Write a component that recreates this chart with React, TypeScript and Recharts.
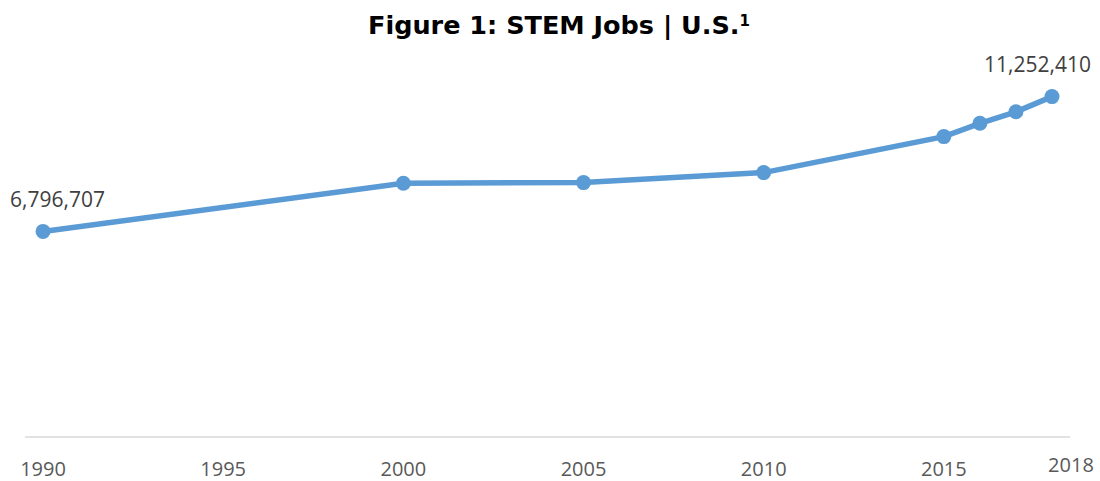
import React from "react";
import { LineChart, Line, XAxis, YAxis, LabelList } from "recharts";

const years = [1990, 2000, 2005, 2010, 2015, 2016, 2017, 2018];
const jobs = [6796707, 8390000, 8410000, 8740000, 9930000, 10370000, 10750000, 11252410];
const xTicks = [1990, 1995, 2000, 2005, 2010, 2015, 2018];
const labelledYears = [1990, 2018];

const data = years.map((y, i) => ({ year: y, jobs: jobs[i] }));

const fmt = (v: number) => v.toLocaleString("en-US");

const Tick = (props: any) => {
  const { x, y, payload } = props;
  const last = payload.value === 2018;
  return (
    <text
      x={x + (last ? 19 : 0)}
      y={y + (last ? 27 : 31)}
      textAnchor="middle"
      fill="#595959"
      fontFamily="'Open Sans', sans-serif"
      fontSize={20}
    >
      {payload.value}
    </text>
  );
};

const DataLabel = (props: any) => {
  const { x, y, index } = props;
  const yr = years[index];
  if (!labelledYears.includes(yr)) return null;
  const first = index === 0;
  return (
    <text
      x={first ? x - 33 : x + 39}
      y={y - 24.5}
      textAnchor={first ? "start" : "end"}
      fill="#404040"
      fontFamily="'Open Sans', sans-serif"
      fontSize={21}
    >
      {fmt(jobs[index])}
    </text>
  );
};

export default function App() {
  return (
    <div style={{ position: "fixed", left: 0, top: 0, width: 1100, height: 481, background: "#fff" }}>
      <div
        style={{
          position: "absolute",
          left: 0,
          top: 9,
          width: 1118,
          textAlign: "center",
          fontFamily: "'DejaVu Sans', sans-serif",
          fontWeight: 700,
          fontSize: 25.5,
          color: "#000",
          lineHeight: "32px",
        }}
      >
        Figure 1: STEM Jobs | U.S.<sup style={{ fontSize: 15, verticalAlign: "top", position: "relative", top: -4 }}>1</sup>
      </div>
      <LineChart width={1100} height={481} data={data} margin={{ top: 74, right: 30, bottom: 0, left: 25 }}>
        <XAxis
          dataKey="year"
          type="number"
          domain={[1989.5, 2018.5]}
          ticks={xTicks}
          tick={<Tick />}
          tickLine={false}
          axisLine={{ stroke: "#d9d9d9", strokeWidth: 1.5 }}
          height={44}
          interval={0}
        />
        <YAxis hide domain={[0, 12000000]} />
        <Line
          dataKey="jobs"
          stroke="#5b9bd5"
          strokeWidth={5.5}
          dot={{ r: 7.5, fill: "#5b9bd5", stroke: "#5b9bd5", strokeWidth: 0 }}
          activeDot={false}
          isAnimationActive={false}
        >
          <LabelList dataKey="jobs" content={<DataLabel />} />
        </Line>
      </LineChart>
    </div>
  );
}
